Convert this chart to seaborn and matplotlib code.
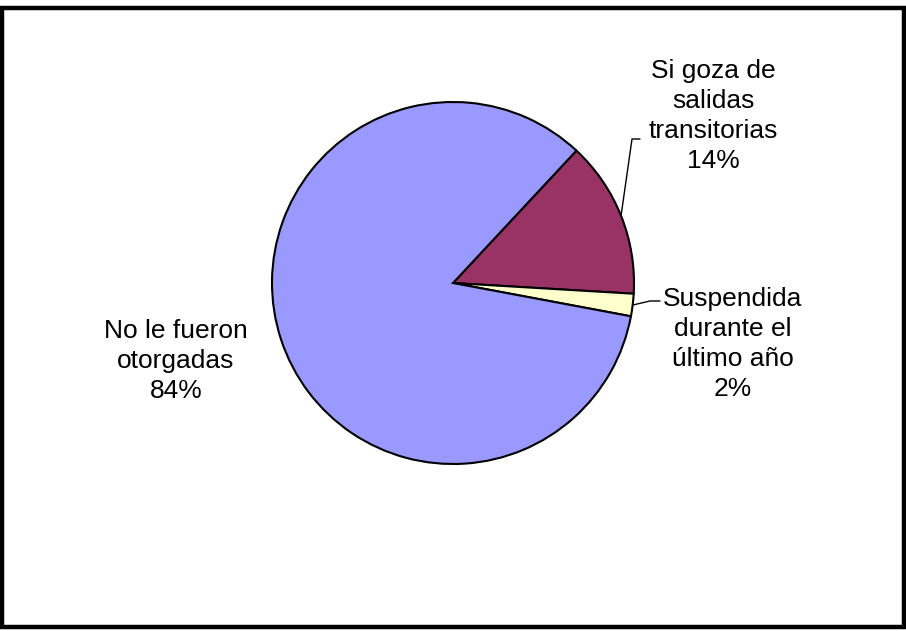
import numpy as np
import matplotlib
matplotlib.use("Agg")
import matplotlib.pyplot as plt
import matplotlib.patches as mpatches
import seaborn as sns

# datos del grafico
categorias = ["Si goza de\nsalidas\ntransitorias", "Suspendida\ndurante el\núltimo año", "No le fueron\notorgadas"]
porcentajes = [14, 2, 84]
colores = ["#993366", "#FFFFCC", "#9999FF"]

sns.set_theme(style="white")
plt.rcParams['font.family'] = ['Liberation Sans', 'DejaVu Sans']

W, H = 906, 631
cx, cy, r = 453, 283, 181  # centro y radio en pixeles

fig = plt.figure(figsize=(W / 100, H / 100), dpi=100)
ax = fig.add_axes([0, 0, 1, 1])

wedges, _ = ax.pie(porcentajes, colors=colores, startangle=47, counterclock=False,
                   radius=1, center=(0, 0),
                   wedgeprops=dict(edgecolor="black", linewidth=1.5))

ax.set_xlim(-cx / r, (W - cx) / r)
ax.set_ylim(-(H - cy) / r, cy / r)
ax.set_aspect("equal")
ax.axis("off")


def px(x, y):
    return (x - cx) / r, (cy - y) / r


# posiciones de las etiquetas (pixeles)
pos_etiquetas = [(713, 116), (733, 344), (176, 361)]
for cat, pct, (x, y) in zip(categorias, porcentajes, pos_etiquetas):
    tx, ty = px(x, y)
    ax.text(tx, ty, f"{cat}\n{pct}%", ha="center", va="center", fontsize=19,
            linespacing=1.3, color="black")

# lineas guia
def borde(w):
    ang = np.deg2rad((w.theta1 + w.theta2) / 2)
    return np.cos(ang), np.sin(ang)

ex, ey = borde(wedges[0])
x1, y1 = px(632, 139)
x2, y2 = px(640, 139)
ax.plot([ex, x1, x2], [ey, y1, y2], color="black", lw=1)

ex, ey = borde(wedges[1])
x1, y1 = px(650, 301)
x2, y2 = px(660, 301)
ax.plot([ex, x1, x2], [ey, y1, y2], color="black", lw=1)

# marco
fig.patches.append(mpatches.Rectangle((1.5 / W, 4 / H), (W - 3.5) / W, (H - 12) / H,
                                      transform=fig.transFigure, fill=False,
                                      edgecolor="black", linewidth=3.2))

fig.savefig("out.png", dpi=100)
